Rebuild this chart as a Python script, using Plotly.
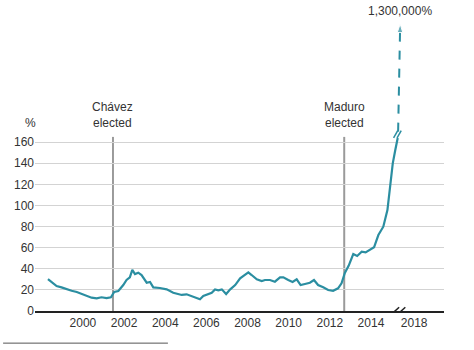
import plotly.graph_objects as go

# Venezuela annual inflation, % (monthly readings)
years = [1998.3, 1998.55, 1998.72, 1998.96, 1999.2, 1999.45, 1999.7, 1999.94,
         2000.18, 2000.42, 2000.67, 2000.9, 2001.15, 2001.36, 2001.52, 2001.72,
         2001.96, 2002.12, 2002.28, 2002.4, 2002.53, 2002.69, 2002.85, 2003.1,
         2003.26, 2003.42, 2003.74, 2004.07, 2004.39, 2004.63, 2004.8, 2005.04,
         2005.29, 2005.53, 2005.69, 2005.85, 2006.1, 2006.26, 2006.42, 2006.58,
         2006.75, 2006.96, 2007.16, 2007.4, 2007.64, 2007.88, 2008.04, 2008.2,
         2008.45, 2008.69, 2008.85, 2009.09, 2009.33, 2009.58, 2009.74, 2009.98,
         2010.19, 2010.39, 2010.58, 2010.79, 2011.03, 2011.23, 2011.43, 2011.68,
         2011.92, 2012.16, 2012.4, 2012.57, 2012.73, 2012.92, 2013.14, 2013.33,
         2013.55, 2013.74, 2013.95, 2014.15, 2014.36, 2014.6, 2014.8, 2014.93,
         2015.06, 2015.18, 2015.3]
inflation = [30.3, 26.2, 23.7, 22.4, 20.5, 19.2, 18, 16.4,
             14.5, 12.6, 12, 13, 12.3, 13, 18, 19,
             24.6, 29.4, 31.9, 38.9, 35, 36.3, 34.1, 26.8,
             27.5, 22.4, 21.8, 20.5, 17.3, 15.8, 15.2, 15.8,
             14.2, 12, 11.1, 14.2, 15.8, 17.3, 20.5, 19.6,
             20.5, 16.1, 20.5, 24.6, 31, 34.1, 36.6, 34.1,
             30, 28.4, 29.4, 29.4, 27.8, 31.9, 31.9, 29.4,
             27.5, 30, 24.6, 25.6, 26.8, 29.4, 24.6, 22.4,
             19.9, 19.2, 21.5, 26.3, 36, 43, 54, 52.1,
             56.2, 55.6, 58.5, 60.4, 72, 79.9, 95.7, 117.8,
             139.9, 152.4, 164]

# Projected figure shown off the scale
forecast_label = "1,300,000%"

# Elections marked on the chart
events = ["Chávez<br>elected", "Maduro<br>elected"]
event_years = [2001.46, 2012.7]

# Axis ticks; the last tick sits past the axis break
y_ticks = [0, 20, 40, 60, 80, 100, 120, 140, 160]
x_ticks = [2000, 2002, 2004, 2006, 2008, 2010, 2012, 2014, 2016.1]
x_tick_text = ["2000", "2002", "2004", "2006", "2008", "2010", "2012", "2014", "2018"]

TEAL = "#2b8ea1"
GREY_LINE = "#9a9a9a"
TEXT = "#333333"
FONT = "Liberation Sans, Arial, sans-serif"

fig = go.Figure()

# Election markers
for ey in event_years:
    fig.add_shape(type="line", xref="x", yref="y", x0=ey, x1=ey, y0=0, y1=165,
                  line=dict(color=GREY_LINE, width=2), layer="below")
for label, ey in zip(events, event_years):
    fig.add_annotation(x=ey, y=186, xref="x", yref="y", text=label,
                       showarrow=False, font=dict(size=12, color=TEXT, family=FONT),
                       align="center")

# Main series
fig.add_trace(go.Scatter(x=years, y=inflation, mode="lines",
                         line=dict(color=TEAL, width=2.2), hoverinfo="skip",
                         showlegend=False))

# Dashed continuation to the off-scale projection
x_last = years[-1]
arrow_x = [x_last + 0.02, x_last + 0.12]
arrow_y = [170, 272]
fig.add_trace(go.Scatter(x=arrow_x, y=arrow_y, mode="lines+markers",
                         line=dict(color=TEAL, width=2, dash="dash"),
                         marker=dict(symbol=["circle", "arrow"], size=[0, 9],
                                     angleref="previous", color=TEAL),
                         hoverinfo="skip", showlegend=False))
fig.add_annotation(x=arrow_x[1], y=284, xref="x", yref="y", text=forecast_label,
                   showarrow=False, font=dict(size=12, color=TEXT, family=FONT))

# Break marks on the series
for dx in (-0.12, 0.05):
    fig.add_shape(type="line", xref="x", yref="y",
                  x0=x_last + dx - 0.08, x1=x_last + dx + 0.12, y0=164, y1=171,
                  line=dict(color=TEAL, width=1.5))

# Break marks on the x axis
brk = 2015.37
fig.add_shape(type="rect", xref="x", yref="y", x0=brk - 0.2, x1=brk + 0.15,
              y0=-2, y1=2, fillcolor="white", line=dict(width=0))
for dx in (-0.2, 0.1):
    fig.add_shape(type="line", xref="x", yref="y",
                  x0=brk + dx - 0.2, x1=brk + dx + 0.2, y0=-3.5, y1=3.5,
                  line=dict(color="#222222", width=1.5))

# Unit label and bottom rule
fig.add_annotation(x=-0.03, y=178, xref="paper", yref="y", text="%",
                   showarrow=False, font=dict(size=12, color=TEXT, family=FONT))
fig.add_shape(type="line", xref="paper", yref="paper", x0=-0.078, x1=0.325,
              y0=-0.105, y1=-0.105, line=dict(color="#555555", width=1))

fig.update_layout(
    width=474, height=350,
    margin=dict(l=35, r=30, t=5, b=39),
    paper_bgcolor="white", plot_bgcolor="white",
    font=dict(family=FONT, size=12, color=TEXT),
    xaxis=dict(range=[1997.67, 2017.55], tickvals=x_ticks, ticktext=x_tick_text,
               showgrid=False, zeroline=False, showline=True,
               linecolor="#222222", linewidth=1.5, ticks="",
               tickfont=dict(size=12, color=TEXT)),
    yaxis=dict(range=[0, 290], tickvals=y_ticks, showgrid=True,
               gridcolor="#d3d3d3", gridwidth=1, zeroline=False,
               ticks="", tickfont=dict(size=12, color=TEXT)),
)

fig.write_html("out.html")
